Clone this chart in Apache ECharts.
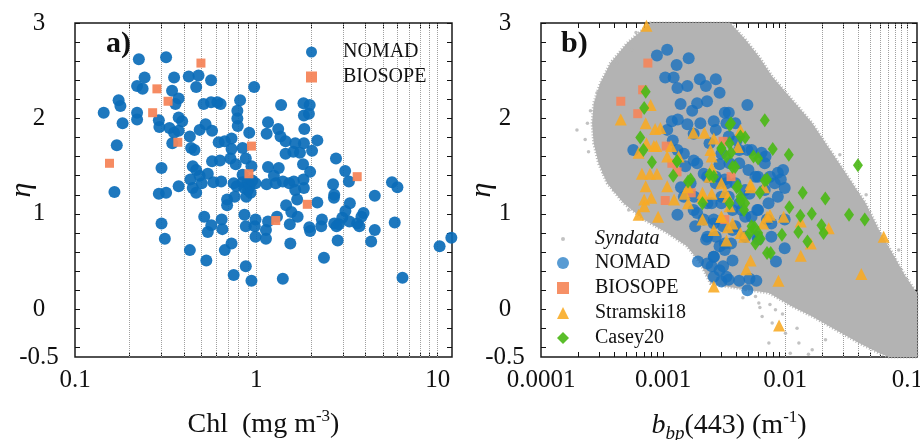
<!DOCTYPE html>
<html>
<head>
<meta charset="utf-8">
<script src="https://cdn.jsdelivr.net/npm/echarts@6/dist/echarts.min.js"></script>
<style>
  html, body { margin: 0; padding: 0; background: #fff; }
  #chart { width: 920px; height: 440px; }
</style>
</head>
<body>
<div id="chart"></div>
<script>
// panel a) eta vs Chl
const nomadA = [
  [0.144,2.06],[0.174,2.19],[0.178,2.13],[0.183,1.95],[0.170,1.72],[0.165,1.23],
  [0.225,2.62],[0.242,2.43],[0.220,2.34],[0.236,2.31],[0.220,2.06],[0.220,1.99],
  [0.318,2.64],[0.352,2.43],[0.343,2.29],[0.373,2.21],[0.358,2.15],[0.373,2.01],[0.390,1.97],
  [0.290,1.98],[0.292,1.91],[0.332,1.90],[0.352,1.85],[0.373,1.87],[0.344,1.74],[0.430,1.81],
  [0.424,2.44],[0.480,2.45],[0.466,2.33],[0.563,2.40],[0.512,2.15],[0.563,2.17],[0.610,2.17],[0.635,2.15],
  [0.814,2.19],[0.786,2.08],[0.786,2.00],[0.790,1.92],[0.973,2.33],[0.914,1.85],
  [0.525,1.94],[0.487,1.88],[0.570,1.87],[0.437,1.69],[0.456,1.67],[0.620,1.75],[0.670,1.76],[0.730,1.79],[0.730,1.68],[0.840,1.69],
  [0.570,1.55],[0.630,1.56],[0.720,1.58],[0.770,1.52],[0.875,1.58],[0.940,1.50],
  [0.300,1.48],[0.446,1.50],[0.466,1.46],[0.433,1.36],[0.487,1.40],[0.540,1.42],[0.500,1.32],[0.446,1.27],[0.466,1.22],[0.373,1.29],[0.290,1.21],[0.318,1.22],
  [0.580,1.33],[0.640,1.34],[0.750,1.32],[0.840,1.41],[0.840,1.33],[0.890,1.32],[0.990,1.32],[0.780,1.29],[0.860,1.27],[0.880,1.18],[0.690,1.15],[0.690,1.09],[0.760,1.18],
  [0.900,1.25],[0.920,1.30],[0.950,1.35],[0.930,1.22],
  [0.516,0.97],[0.565,0.88],[0.540,0.81],[0.644,0.94],[0.650,0.84],[0.730,0.69],[0.670,0.62],[0.860,0.99],[0.875,0.87],[0.980,0.87],[0.990,0.94],[0.990,0.76],
  [0.300,0.90],[0.313,0.74],[0.430,0.62],[0.530,0.51],[0.750,0.36],[0.875,0.45],[0.940,0.30],
  [1.37,2.14],[1.82,2.16],[1.97,2.14],[1.95,2.05],[1.83,2.03],[1.84,1.89],[1.16,1.96],[1.14,1.84],[1.32,1.89],[1.36,1.81],
  [1.45,1.76],[1.45,1.63],[1.64,1.74],[1.60,1.65],[1.74,1.64],[1.83,1.74],[2.03,1.66],[2.17,1.77],[1.81,1.52],[1.98,1.44],
  [1.16,1.49],[1.33,1.48],[1.25,1.40],[1.14,1.31],[1.28,1.32],[1.40,1.34],[1.52,1.32],[1.61,1.34],[1.82,1.36],[1.83,1.27],
  [1.64,1.25],[1.68,1.15],[2.17,1.12],[1.46,1.09],[1.56,1.02],[1.69,0.97],[1.30,0.97],[1.16,0.92],[1.13,0.83],[1.13,0.74],
  [1.53,0.89],[1.54,0.69],[1.96,0.86],[1.98,0.82],[2.28,0.87],[2.30,0.94],[2.36,0.54],[1.40,0.32],
  [2.75,1.58],[3.09,1.45],[3.24,1.34],[2.65,1.31],[2.69,1.20],[2.68,1.17],[3.28,1.11],[3.10,1.03],[2.98,0.96],[2.69,0.90],
  [2.85,0.89],[2.77,0.87],[2.81,0.72],[3.26,0.92],[3.60,0.90],[3.70,0.87],[3.80,0.97],[3.90,1.01],[4.50,1.19],[4.50,0.83],
  [4.30,0.71],[5.60,1.33],[6.00,1.28],[5.80,0.91],[6.40,0.33],[10.25,0.66],[11.9,0.75]
];
const biosopeA = [
  [0.155,1.53],[0.283,2.31],[0.326,2.18],[0.268,2.06],[0.369,1.75],[0.495,2.58],
  [0.940,1.71],[0.910,1.42],[1.28,0.93],[1.91,1.10],[3.60,1.39]
];

// panel b) eta vs bbp(443)
const nomadB = [
  [0.00089,2.66],[0.00108,2.72],[0.00129,2.56],[0.00162,2.63],[0.00104,2.43],[0.00122,2.43],[0.00131,2.32],[0.00158,2.34],
  [0.00200,2.41],[0.00224,2.34],[0.0027,2.41],[0.0029,2.27],[0.00190,2.16],[0.00229,2.18],[0.00139,2.15],[0.00173,2.08],
  [0.00118,1.97],[0.00132,1.99],[0.00158,1.94],[0.00202,1.95],[0.0026,1.97],[0.0032,2.06],[0.0033,1.95],[0.00108,1.88],
  [0.00120,1.77],[0.00057,1.67],[0.00131,1.67],[0.00152,1.50],[0.00190,1.53],[0.0029,1.52],[0.00229,1.39],[0.0027,1.32],
  [0.0032,1.36],[0.00168,1.32],[0.00180,1.18],[0.0025,1.11],[0.00131,0.99],[0.00190,1.01],[0.00183,0.87],[0.0026,0.90],
  [0.0030,1.11],[0.00225,0.73],[0.0027,0.76],[0.0032,0.69],[0.00193,0.50],[0.0026,0.55],[0.0029,0.41],[0.0026,0.34],
  [0.0030,0.29],[0.0033,0.34],[0.0023,0.48],[0.0025,0.45],
  [0.0049,2.14],[0.00345,2.06],[0.0039,1.95],[0.00345,1.81],[0.0042,1.67],[0.0053,1.67],[0.0064,1.64],[0.0069,1.60],
  [0.0042,1.53],[0.0050,1.46],[0.0060,1.39],[0.0087,1.43],[0.0096,1.46],[0.0092,1.36],[0.0082,1.32],[0.0099,1.27],
  [0.0087,1.18],[0.0073,1.11],[0.0060,1.04],[0.0047,1.25],[0.0039,1.32],[0.00345,1.18],[0.0037,1.04],[0.0044,1.04],
  [0.0053,0.97],[0.0077,0.90],[0.0099,0.94],[0.0037,0.83],[0.0047,0.76],[0.0060,0.73],[0.0077,0.76],[0.0099,0.64],
  [0.0037,0.51],[0.0084,0.50],[0.0032,0.62],[0.00345,0.31],[0.0042,0.30],[0.0051,0.32],[0.0058,0.30],[0.0049,0.20],
  [0.00148,1.63],[0.00178,1.56],[0.00215,1.42],[0.0027,1.39],[0.0033,1.32],[0.0030,1.18],[0.0023,1.11],[0.00178,1.04],
  [0.00148,1.18],[0.0014,1.28],[0.0042,1.11],[0.0047,0.97],[0.0039,0.87],[0.0031,0.87],[0.0026,0.94],[0.00215,0.94],
  [0.0023,0.76],[0.0029,0.66],[0.0036,0.69],[0.0026,0.55],[0.0031,0.45],[0.0051,1.21],[0.0057,1.39],[0.0068,1.25],
  [0.0035,1.53],[0.0030,1.63],[0.0024,1.74],[0.00178,1.84],[0.0027,1.88],[0.0040,1.77],[0.0049,1.67],[0.0068,1.53],
  [0.0075,1.39],[0.0059,1.04],[0.0071,0.94],[0.0059,0.76]
];
const biosopeB = [
  [0.00075,2.58],[0.00045,2.18],[0.00062,2.05],[0.00068,2.30],[0.00106,1.71],[0.00118,1.53],
  [0.0013,1.44],[0.00104,1.14],[0.0017,1.22],[0.0031,1.76],[0.0036,1.39],[0.0032,0.94]
];
const stramski18 = [
  [0.00073,2.97],[0.00079,2.14],[0.00045,1.99],[0.00072,1.95],[0.00086,1.89],[0.00095,1.90],[0.00177,1.85],[0.00218,1.85],
  [0.0026,1.79],[0.00073,1.74],[0.00084,1.71],[0.00088,1.71],[0.00116,1.71],[0.00063,1.64],[0.00108,1.60],[0.00134,1.60],
  [0.00067,1.42],[0.00078,1.42],[0.00089,1.42],[0.00108,1.29],[0.00072,1.29],[0.00080,1.17],[0.00070,1.15],[0.00123,1.15],
  [0.0015,1.21],[0.0021,1.22],[0.0025,1.60],[0.0025,1.48],[0.00070,1.08],[0.00063,0.99],[0.00091,0.97],[0.0021,0.94],
  [0.0026,0.83],[0.0030,0.97],[0.0026,0.24],[0.0032,1.23],
  [0.0043,1.88],[0.0041,1.70],[0.0052,1.31],[0.0067,1.28],[0.0075,0.99],[0.0066,0.90],[0.0097,0.97],[0.0134,0.92],
  [0.0162,0.69],[0.0227,0.85],[0.0134,0.56],[0.064,0.76],[0.042,0.37],[0.0052,0.51],[0.0048,0.42],[0.0088,0.30],
  [0.0089,-0.17],[0.0043,0.80],[0.0037,0.90],[0.0035,1.08],
  [0.00244,1.67],[0.0030,1.32],[0.0025,1.21],[0.0034,1.18],[0.0052,1.28],[0.0071,0.97],[0.0030,0.97],[0.0034,0.86],
  [0.0046,0.76],[0.0033,0.72],[0.0024,1.39],[0.0016,1.28],[0.0021,1.18],[0.0016,1.11]
];
const casey20 = [
  [0.00072,2.28],[0.00070,2.11],[0.00065,1.80],[0.00069,1.67],[0.00081,1.54],[0.00130,1.55],[0.00121,1.40],[0.00168,1.36],
  [0.0021,1.11],[0.0026,1.39],[0.0030,1.68],
  [0.0068,1.98],[0.0036,1.95],[0.0047,1.80],[0.0039,1.49],[0.0079,1.68],[0.0060,1.58],[0.0107,1.62],[0.0071,1.36],
  [0.0139,1.22],[0.0213,1.16],[0.0394,1.51],[0.0333,0.99],[0.0448,0.94],[0.0165,1.00],[0.0133,0.98],[0.0198,0.88],
  [0.0206,0.80],[0.0152,0.71],[0.0128,0.81],[0.0108,1.07],[0.0094,0.78],[0.0076,0.59],[0.0062,1.22],[0.0041,1.29],
  [0.0043,1.18],[0.0047,1.11],[0.0056,0.86],[0.0060,0.80],[0.0051,0.80],[0.0057,0.69],[0.0063,0.74],[0.0035,1.74],
  [0.0036,1.64],[0.0035,1.93],[0.0043,1.81],[0.0030,1.69],[0.0033,1.60],[0.0037,1.49],[0.0055,1.60],[0.0068,1.35],
  [0.0040,1.28],[0.0043,1.14],[0.0046,1.04],[0.0035,1.11],[0.0053,0.87],[0.0071,0.59],[0.0016,1.34],[0.0024,1.41],
  [0.0013,1.55]
];
// outline of the dense Syndata cloud, traced clockwise
const syndataOutline = [
  [0.000787,3.0],[0.00355,3.0],[0.00473,2.825],[0.00608,2.65],[0.00782,2.44],[0.0114,2.196],[0.01663,1.952],
  [0.02138,1.742],[0.02754,1.532],[0.0354,1.323],[0.0455,1.113],[0.0585,0.834],[0.0753,0.589],[0.0968,0.344],
  [0.12,0.17],[0.12,-0.5],[0.0708,-0.5],[0.0586,-0.459],[0.0402,-0.354],[0.0258,-0.215],[0.01663,-0.075],
  [0.0114,0.03],[0.00735,0.17],[0.00324,0.24],[0.00244,0.27],[0.00202,0.48],[0.00157,0.66],[0.00108,0.80],
  [0.000693,0.94],[0.000475,1.11],[0.000348,1.32],[0.000296,1.53],[0.00027,1.74],[0.000262,1.95],[0.00027,2.16],
  [0.000306,2.37],[0.00037,2.58],[0.000507,2.79]
];
// loose Syndata points around the cloud
const syndataHalo = [
  [0.000254,2.08],[0.000245,1.65],[0.000288,2.27],[0.000348,2.44],[0.00042,2.58],[0.00024,1.95],[0.000326,1.43],
  [0.000394,1.25],[0.000522,1.04],[0.000197,1.88],[0.00023,1.78],[0.00031,2.35],[0.00055,2.72],[0.0006,2.9],
  [0.00608,0.065],[0.00647,-0.075],[0.00832,-0.005],[0.01005,-0.25],[0.01294,-0.354],[0.01663,-0.424],[0.02138,-0.32],
  [0.00782,-0.145],[0.00571,0.135],[0.00473,0.205],[0.00735,-0.354],[0.0155,-0.47],[0.011,-0.46],[0.0095,-0.05],
  [0.0125,-0.2],[0.0062,0.02],[0.0045,0.12],[0.0075,0.05],[0.028,1.62],[0.046,1.2],[0.085,0.62]
];

const chlGridLines = [0.2,0.3,0.4,0.5,0.6,0.7,0.8,0.9,1,2,3,4,5,6,7,8,9,10];
const bbpGridLines = [0.0002,0.0003,0.0004,0.0005,0.0006,0.0007,0.0008,0.0009,0.001,
  0.002,0.003,0.004,0.005,0.006,0.007,0.008,0.009,0.01,0.02,0.03,0.04,0.05,0.06,0.07,0.08,0.09,0.1];
const chlTickLabels = ['0.1','1','10'];          // exponents -1..1
const bbpTickLabels = ['0.0001','0.001','0.01','0.1']; // exponents -4..-1
const etaLabelValues = [-0.5,0,1,2,3];
const etaTickValues = [-0.4,-0.2,0,0.2,0.4,0.6,0.8,1,1.2,1.4,1.6,1.8,2,2.2,2.4,2.6,2.8,3];

const FONT = '"Liberation Serif", "Times New Roman", serif';
const INK = '#111';

const chart = echarts.init(document.getElementById('chart'));

const logFormatter = (labels, firstExp) => v => {
  const e = Math.log10(v);
  const r = Math.round(e);
  if (Math.abs(e - r) > 1e-6) return '';
  return labels[r - firstExp] || '';
};

const makeX = (gridIndex, position, min, max, labels, firstExp, ticks, name, rich) => ({
  type: 'log', logBase: 10, gridIndex, position, min, max,
  axisLine: { show: false, onZero: false },
  splitLine: { show: false },
  axisTick: { inside: true, length: 5, customValues: ticks, lineStyle: { color: INK, width: 1 } },
  axisLabel: {
    show: position === 'bottom', margin: 11, fontSize: 25, fontFamily: FONT, color: INK,
    formatter: logFormatter(labels, firstExp)
  },
  name: position === 'bottom' ? name : '', nameLocation: 'middle', nameGap: 51, nameMoveOverlap: false,
  nameTextStyle: { fontSize: 28, fontFamily: FONT, color: INK, rich }
});

const makeY = (gridIndex, position, withLabels, nameGap) => ({
  type: 'value', gridIndex, position, min: -0.5, max: 3, interval: 0.5,
  axisLine: { show: false, onZero: false },
  splitLine: { show: false },
  axisTick: { inside: true, length: 5, customValues: etaTickValues, lineStyle: { color: INK, width: 1 } },
  axisLabel: {
    show: withLabels, customValues: etaLabelValues, align: 'center', margin: 36,
    fontSize: 25, fontFamily: FONT, color: INK,
    formatter: v => (etaLabelValues.includes(v) ? String(v) : '')
  },
  name: withLabels ? 'η' : '', nameLocation: 'middle', nameRotate: 90, nameGap: nameGap || 36,
  nameMoveOverlap: false,
  nameTextStyle: { fontSize: 30, fontStyle: 'italic', fontFamily: FONT, color: INK }
});

const gridMarks = values => ({
  silent: true, symbol: 'none', z: 1, animation: false,
  label: { show: false },
  lineStyle: { type: 'dotted', color: '#a0a0a0', width: 1 },
  data: values.map(v => ({ xAxis: v }))
});

const chlRich = { sup: { fontSize: 17, fontFamily: FONT, color: INK, padding: [0, 0, 16, 0] } };
const bbpRich = {
  b: { fontSize: 28, fontStyle: 'italic', fontFamily: FONT, color: INK },
  sub: { fontSize: 19, fontStyle: 'italic', fontFamily: FONT, color: INK, padding: [16, 0, 0, 0] },
  sup: { fontSize: 17, fontFamily: FONT, color: INK, padding: [0, 0, 16, 0] }
};

const gridBase = { top: 23, height: 334, show: true, borderColor: '#1a1a1a', borderWidth: 1.5,
  backgroundColor: 'transparent', containLabel: false, outerBoundsMode: 'none' };

const option = {
  animation: false,
  backgroundColor: '#fff',
  title: [
    { text: 'a)', left: 106, top: 29, padding: 0, textStyle: { fontFamily: FONT, fontWeight: 'bold', fontSize: 30, color: INK } },
    { text: 'b)', left: 561, top: 29, padding: 0, textStyle: { fontFamily: FONT, fontWeight: 'bold', fontSize: 30, color: INK } }
  ],
  grid: [
    Object.assign({}, gridBase, { left: 75, width: 377 }),
    Object.assign({}, gridBase, { left: 541, width: 376 })
  ],
  xAxis: [
    makeX(0, 'bottom', 0.1, 12, chlTickLabels, -1, chlGridLines, 'Chl  (mg m{sup|-3})', chlRich),
    makeX(1, 'bottom', 0.0001, 0.12, bbpTickLabels, -4, bbpGridLines, '{b|b}{sub|bp}(443) (m{sup|-1})', bbpRich),
    makeX(0, 'top', 0.1, 12, chlTickLabels, -1, chlGridLines, '', chlRich),
    makeX(1, 'top', 0.0001, 0.12, bbpTickLabels, -4, bbpGridLines, '', bbpRich)
  ],
  yAxis: [
    makeY(0, 'left', true, 38), makeY(0, 'right', false),
    makeY(1, 'left', true, 44), makeY(1, 'right', false)
  ],
  legend: [
    {
      left: 301, top: 37, orient: 'vertical', itemGap: 5, itemWidth: 11, itemHeight: 11, selectedMode: false,
      textStyle: { fontSize: 20, fontFamily: FONT, color: INK, lineHeight: 20, padding: [0, 0, 0, 21] },
      data: [{ name: 'NOMAD', icon: 'circle' }, { name: 'BIOSOPE', icon: 'rect' }]
    },
    {
      left: 556, top: 224, orient: 'vertical', itemWidth: 4, itemHeight: 4, selectedMode: false,
      textStyle: { fontSize: 20, fontStyle: 'italic', fontFamily: FONT, color: INK, lineHeight: 20, padding: [0, 0, 0, 25] },
      data: [{ name: 'Syndata', icon: 'circle' }]
    },
    {
      left: 552, top: 248, orient: 'vertical', itemGap: 5, itemWidth: 12, itemHeight: 12, selectedMode: false,
      textStyle: { fontSize: 20, fontFamily: FONT, color: INK, lineHeight: 20, padding: [0, 0, 0, 21] },
      data: [
        { name: 'NOMAD', icon: 'circle', itemStyle: { color: '#4a93cf' } },
        { name: 'BIOSOPE', icon: 'rect', itemStyle: { color: '#f68a5e' } },
        { name: 'Stramski18', icon: 'triangle' },
        { name: 'Casey20', icon: 'diamond' }
      ]
    }
  ],
  series: [
    {
      name: 'NOMAD', type: 'scatter', xAxisIndex: 0, yAxisIndex: 0, z: 12,
      symbol: 'circle', symbolSize: 12, data: nomadA,
      itemStyle: { color: '#0b6cb8', opacity: 0.92 },
      markLine: gridMarks(chlGridLines)
    },
    {
      name: 'BIOSOPE', type: 'scatter', xAxisIndex: 0, yAxisIndex: 0, z: 13,
      symbol: 'rect', symbolSize: 9, data: biosopeA,
      itemStyle: { color: '#f5855a', opacity: 0.95 }
    },
    {
      name: 'Syndata cloud', type: 'custom', xAxisIndex: 1, yAxisIndex: 2, z: 10, silent: true,
      data: [[0.001, 1]],
      renderItem: (params, api) => ({
        type: 'polygon',
        shape: { points: syndataOutline.map(p => api.coord(p)) },
        style: { fill: '#b3b3b3', stroke: '#b3b3b3', lineWidth: 3, lineDash: [1, 2] }
      })
    },
    {
      name: 'Syndata', type: 'scatter', xAxisIndex: 1, yAxisIndex: 2, z: 11,
      symbol: 'circle', symbolSize: 3.5, data: syndataHalo,
      itemStyle: { color: '#b3b3b3' },
      markLine: gridMarks(bbpGridLines)
    },
    {
      name: 'NOMAD', type: 'scatter', xAxisIndex: 1, yAxisIndex: 2, z: 12,
      symbol: 'circle', symbolSize: 12, data: nomadB,
      itemStyle: { color: '#1670bf', opacity: 0.78 }
    },
    {
      name: 'BIOSOPE', type: 'scatter', xAxisIndex: 1, yAxisIndex: 2, z: 13,
      symbol: 'rect', symbolSize: 9, data: biosopeB,
      itemStyle: { color: '#f5855a', opacity: 0.9 }
    },
    {
      name: 'Stramski18', type: 'scatter', xAxisIndex: 1, yAxisIndex: 2, z: 14,
      symbol: 'triangle', symbolSize: 12, data: stramski18,
      itemStyle: { color: '#f8aa22', opacity: 0.88 }
    },
    {
      name: 'Casey20', type: 'scatter', xAxisIndex: 1, yAxisIndex: 2, z: 15,
      symbol: 'diamond', symbolSize: [10, 14], data: casey20,
      itemStyle: { color: '#4cb818', opacity: 0.92 }
    }
  ]
};

chart.setOption(option);
</script>
</body>
</html>
